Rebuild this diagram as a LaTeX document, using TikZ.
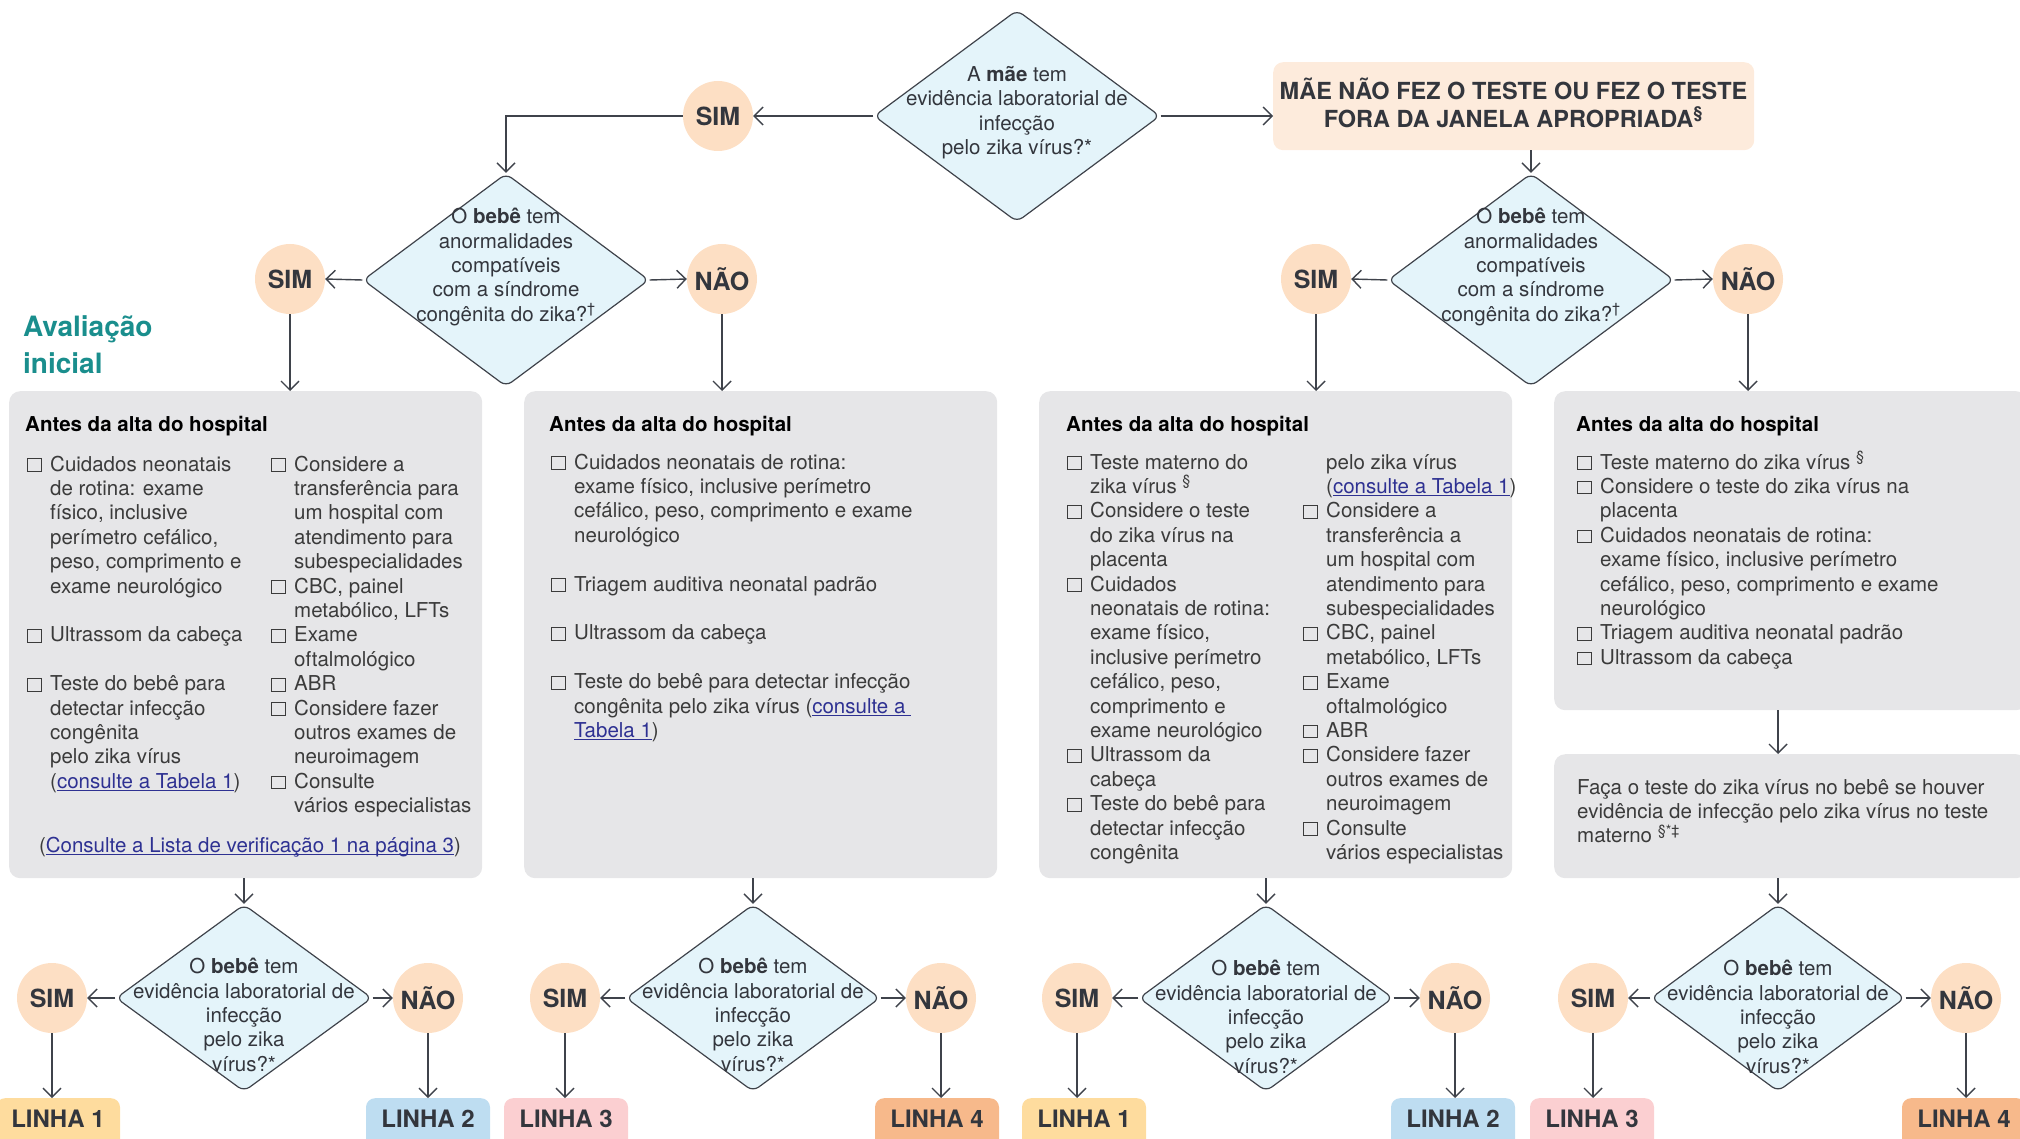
\documentclass[tikz,border=0pt]{standalone}
\usepackage{fontspec}
\setmainfont{TeX Gyre Heros}
\usetikzlibrary{arrows.meta,shapes.geometric}
\definecolor{linegray}{HTML}{3F434B}
\definecolor{diafill}{HTML}{E4F4FA}
\definecolor{circfill}{HTML}{FDDFC4}
\definecolor{topfill}{HTML}{FDEBDC}
\definecolor{boxgray}{HTML}{E6E6E8}
\definecolor{darktext}{HTML}{33363D}
\definecolor{bodytext}{HTML}{3B3B3B}
\definecolor{headteal}{HTML}{1A8E8D}
\definecolor{linkblue}{HTML}{2E3192}
\definecolor{lone}{HTML}{FEDC9E}
\definecolor{ltwo}{HTML}{BEDDF1}
\definecolor{lthree}{HTML}{FBCFD1}
\definecolor{lfour}{HTML}{F7B98B}

\newcommand\bodyfont{\fontsize{20.5pt}{24.4pt}\selectfont}
\newcommand\cbx{{\setlength\fboxsep{0pt}\setlength\fboxrule{1pt}\fbox{\rule{0pt}{11.7pt}\rule{12.7pt}{0pt}}}}
\newcommand\ckitem{\par\hangindent=23pt\hangafter=1\noindent\makebox[23pt][l]{\cbx}}
\newcommand\skipline{\par\vspace{24.4pt}}
\newcommand\lnk[1]{{\color{linkblue}\setbox0\hbox{#1}\rlap{\rule[-2.6pt]{\wd0}{0.9pt}}\box0}}

\begin{document}
\begin{tikzpicture}[x=1pt,y=-1pt,
  dia/.style={diamond, draw=linegray, line width=1.2pt, fill=diafill, rounded corners=7pt, inner sep=0pt},
  dtext/.style={align=center, font=\bodyfont, text=darktext, inner sep=0pt},
  yn/.style={circle, fill=circfill, minimum size=70pt, inner sep=0pt, font=\fontsize{25pt}{30pt}\selectfont\bfseries, text=darktext},
  gbox/.style={fill=boxgray, rounded corners=11pt, inner sep=0pt, anchor=north west},
  linha/.style={rounded corners=9pt, minimum width=124pt, minimum height=52pt, inner sep=0pt, anchor=north, font=\fontsize{24pt}{28pt}\selectfont\bfseries, text=darktext, text height=17pt, text depth=11pt},
  arr/.style={draw=linegray, line width=1.4pt, -{Straight Barb[length=9pt,width=18pt]}},
  ttl/.style={anchor=base west, inner sep=0pt, font=\fontsize{20.5pt}{24.4pt}\selectfont\bfseries, text=black},
  col/.style={anchor=base west, inner sep=0pt, font=\bodyfont, text=bodytext}
]
\useasboundingbox (0,0) rectangle (2020,1139);
\clip (0,0) rectangle (2020,1139);

% ---------- top level ----------
\node[dia, minimum width=286pt, minimum height=212pt] (d1) at (1017,116) {};
\node[dtext] (t1) at (1017,112.5) {A \textbf{mãe} tem\\evidência laboratorial de\\infecção\\pelo zika vírus?*};
\node[yn] (sim1) at (718,116) {SIM};
\node[fill=topfill, rounded corners=10pt, minimum width=481pt, minimum height=88pt, anchor=north west,
      inner sep=0pt] (topbox) at (1273,62) {};
\node[align=center, inner sep=0pt, text=darktext, font=\fontsize{23.5pt}{27.5pt}\selectfont\bfseries]
      (toptext) at (1513.5,103) {MÃE NÃO FEZ O TESTE OU FEZ O TESTE\\FORA DA JANELA APROPRIADA\textsuperscript{§}};

% ---------- second level ----------
\node[dia, minimum width=286pt, minimum height=213pt] (d2) at (506,280) {};
\node[dtext] (t2) at (506,267) {O \textbf{bebê} tem\\anormalidades\\compatíveis\\com a síndrome\\congênita do zika?\textsuperscript{†}};
\node[yn] (sim2) at (290,279) {SIM};
\node[yn] (nao2) at (722,279) {NÃO};

\node[dia, minimum width=286pt, minimum height=213pt] (d3) at (1531,280) {};
\node[dtext] (t3) at (1531,267) {O \textbf{bebê} tem\\anormalidades\\compatíveis\\com a síndrome\\congênita do zika?\textsuperscript{†}};
\node[yn] (sim3) at (1316,279) {SIM};
\node[yn] (nao3) at (1748,279) {NÃO};

\node[anchor=base west, inner sep=0pt, text=headteal, font=\fontsize{28pt}{36pt}\selectfont\bfseries] (head) at (23,337)
  {\begin{minipage}[t]{200pt}Avaliação\\inicial\end{minipage}};

% ---------- boxes ----------
\node[gbox, minimum width=473pt, minimum height=487pt] (boxA) at (9,391) {};
\node[gbox, minimum width=473pt, minimum height=487pt] (boxB) at (524,391) {};
\node[gbox, minimum width=473pt, minimum height=487pt] (boxC) at (1039,391) {};
\node[gbox, minimum width=473pt, minimum height=319pt] (boxD) at (1554,391) {};
\node[gbox, minimum width=473pt, minimum height=124pt] (boxE) at (1554,754) {};

% box A
\node[ttl] (ttlA) at (25,431) {Antes da alta do hospital};
\node[col] (aL) at (27,471) {\begin{minipage}[t]{300pt}\parindent=0pt\parskip=0pt
\ckitem Cuidados neonatais\\de rotina: exame\\físico, inclusive\\perímetro cefálico,\\peso, comprimento e\\exame neurológico
\skipline
\ckitem Ultrassom da cabeça
\skipline
\ckitem Teste do bebê para\\detectar infecção\\congênita\\pelo zika vírus\\(\lnk{consulte a Tabela 1})
\end{minipage}};
\node[col] (aR) at (271,471) {\begin{minipage}[t]{300pt}\parindent=0pt\parskip=0pt
\ckitem Considere a\\transferência para\\um hospital com\\atendimento para\\subespecialidades
\ckitem CBC, painel\\metabólico, LFTs
\ckitem Exame\\oftalmológico
\ckitem ABR
\ckitem Considere fazer\\outros exames de\\neuroimagem
\ckitem Consulte\\vários especialistas
\end{minipage}};
\node[anchor=base, inner sep=0pt, font=\bodyfont, text=bodytext] (aF) at (250,852)
  {(\lnk{Consulte a Lista de verificação 1 na página 3})};

% box B
\node[ttl] (ttlB) at (549,431) {Antes da alta do hospital};
\node[col] (bL) at (551,469) {\begin{minipage}[t]{400pt}\parindent=0pt\parskip=0pt
\ckitem Cuidados neonatais de rotina:\\exame físico, inclusive perímetro\\cefálico, peso, comprimento e exame\\neurológico
\skipline
\ckitem Triagem auditiva neonatal padrão
\skipline
\ckitem Ultrassom da cabeça
\skipline
\ckitem Teste do bebê para detectar infecção\\congênita pelo zika vírus (\lnk{consulte a\ }\\\lnk{Tabela 1})
\end{minipage}};

% box C
\node[ttl] (ttlC) at (1066,431) {Antes da alta do hospital};
\node[col] (cL) at (1067,469) {\begin{minipage}[t]{300pt}\parindent=0pt\parskip=0pt
\ckitem Teste materno do\\zika vírus \textsuperscript{§}
\ckitem Considere o teste\\do zika vírus na\\placenta
\ckitem Cuidados\\neonatais de rotina:\\exame físico,\\inclusive perímetro\\cefálico, peso,\\comprimento e\\exame neurológico
\ckitem Ultrassom da\\cabeça
\ckitem Teste do bebê para\\detectar infecção\\congênita
\end{minipage}};
\node[col] (cR) at (1303,469) {\begin{minipage}[t]{300pt}\parindent=0pt\parskip=0pt
\hangindent=23pt\hangafter=0\noindent pelo zika vírus\\(\lnk{consulte a Tabela 1})
\ckitem Considere a\\transferência a\\um hospital com\\atendimento para\\subespecialidades
\ckitem CBC, painel\\metabólico, LFTs
\ckitem Exame\\oftalmológico
\ckitem ABR
\ckitem Considere fazer\\outros exames de\\neuroimagem
\ckitem Consulte\\vários especialistas
\end{minipage}};

% box D
\node[ttl] (ttlD) at (1576,431) {Antes da alta do hospital};
\node[col] (dL) at (1577,469) {\begin{minipage}[t]{420pt}\parindent=0pt\parskip=0pt
\ckitem Teste materno do zika vírus \textsuperscript{§}
\ckitem Considere o teste do zika vírus na\\placenta
\ckitem Cuidados neonatais de rotina:\\exame físico, inclusive perímetro\\cefálico, peso, comprimento e exame\\neurológico
\ckitem Triagem auditiva neonatal padrão
\ckitem Ultrassom da cabeça
\end{minipage}};
\node[col] (eL) at (1577,794) {\begin{minipage}[t]{430pt}\parindent=0pt\parskip=0pt
Faça o teste do zika vírus no bebê se houver\\evidência de infecção pelo zika vírus no teste\\materno \textsuperscript{§*‡}
\end{minipage}};

% ---------- bottom level ----------
\node[dia, minimum width=256pt, minimum height=187pt] (d4) at (244,998) {};
\node[dtext] (t4) at (244,1015) {O \textbf{bebê} tem\\evidência laboratorial de\\infecção\\pelo zika\\vírus?*};
\node[yn] (sim4) at (52,998) {SIM};
\node[yn] (nao4) at (428,998) {NÃO};

\node[dia, minimum width=254pt, minimum height=187pt] (d5) at (753,998) {};
\node[dtext] (t5) at (753,1015) {O \textbf{bebê} tem\\evidência laboratorial de\\infecção\\pelo zika\\vírus?*};
\node[yn] (sim5) at (565,998) {SIM};
\node[yn] (nao5) at (941,998) {NÃO};

\node[dia, minimum width=254pt, minimum height=187pt] (d6) at (1266,998) {};
\node[dtext] (t6) at (1266,1017) {O \textbf{bebê} tem\\evidência laboratorial de\\infecção\\pelo zika\\vírus?*};
\node[yn] (sim6) at (1077,998) {SIM};
\node[yn] (nao6) at (1455,998) {NÃO};

\node[dia, minimum width=254pt, minimum height=187pt] (d7) at (1778,998) {};
\node[dtext] (t7) at (1778,1017) {O \textbf{bebê} tem\\evidência laboratorial de\\infecção\\pelo zika\\vírus?*};
\node[yn] (sim7) at (1593,998) {SIM};
\node[yn] (nao7) at (1966,998) {NÃO};

\node[linha, fill=lone] (l1a) at (58,1098) {LINHA 1};
\node[linha, fill=ltwo] (l2a) at (428,1098) {LINHA 2};
\node[linha, fill=lthree] (l3a) at (566,1098) {LINHA 3};
\node[linha, fill=lfour] (l4a) at (937,1098) {LINHA 4};
\node[linha, fill=lone] (l1b) at (1084,1098) {LINHA 1};
\node[linha, fill=ltwo] (l2b) at (1453,1098) {LINHA 2};
\node[linha, fill=lthree] (l3b) at (1592,1098) {LINHA 3};
\node[linha, fill=lfour] (l4b) at (1964,1098) {LINHA 4};

% ---------- connectors ----------
\draw[arr] (d1.west) -- (sim1.east);
\draw[arr] (sim1.west) -| (d2.north);
\draw[arr] (d1.east) -- (d1.east -| topbox.west);
\draw[arr] (d3.north |- topbox.south) -- (d3.north);

\draw[arr] (d2.west) -- (sim2.east);
\draw[arr] (d2.east) -- (nao2.west);
\draw[arr] (d3.west) -- (sim3.east);
\draw[arr] (d3.east) -- (nao3.west);

\draw[arr] (sim2.south) -- (sim2.south |- boxA.north);
\draw[arr] (nao2.south) -- (nao2.south |- boxB.north);
\draw[arr] (sim3.south) -- (sim3.south |- boxC.north);
\draw[arr] (nao3.south) -- (nao3.south |- boxD.north);
\draw[arr] (d7.north |- boxD.south) -- (d7.north |- boxE.north);

\draw[arr] (d4.north |- boxA.south) -- (d4.north);
\draw[arr] (d5.north |- boxB.south) -- (d5.north);
\draw[arr] (d6.north |- boxC.south) -- (d6.north);
\draw[arr] (d7.north |- boxE.south) -- (d7.north);

\draw[arr] (d4.west) -- (sim4.east);
\draw[arr] (d4.east) -- (nao4.west);
\draw[arr] (d5.west) -- (sim5.east);
\draw[arr] (d5.east) -- (nao5.west);
\draw[arr] (d6.west) -- (sim6.east);
\draw[arr] (d6.east) -- (nao6.west);
\draw[arr] (d7.west) -- (sim7.east);
\draw[arr] (d7.east) -- (nao7.west);

\draw[arr] (sim4.south) -- (sim4.south |- l1a.north);
\draw[arr] (nao4.south) -- (nao4.south |- l2a.north);
\draw[arr] (sim5.south) -- (sim5.south |- l3a.north);
\draw[arr] (nao5.south) -- (nao5.south |- l4a.north);
\draw[arr] (sim6.south) -- (sim6.south |- l1b.north);
\draw[arr] (nao6.south) -- (nao6.south |- l2b.north);
\draw[arr] (sim7.south) -- (sim7.south |- l3b.north);
\draw[arr] (nao7.south) -- (nao7.south |- l4b.north);
\end{tikzpicture}
\end{document}
